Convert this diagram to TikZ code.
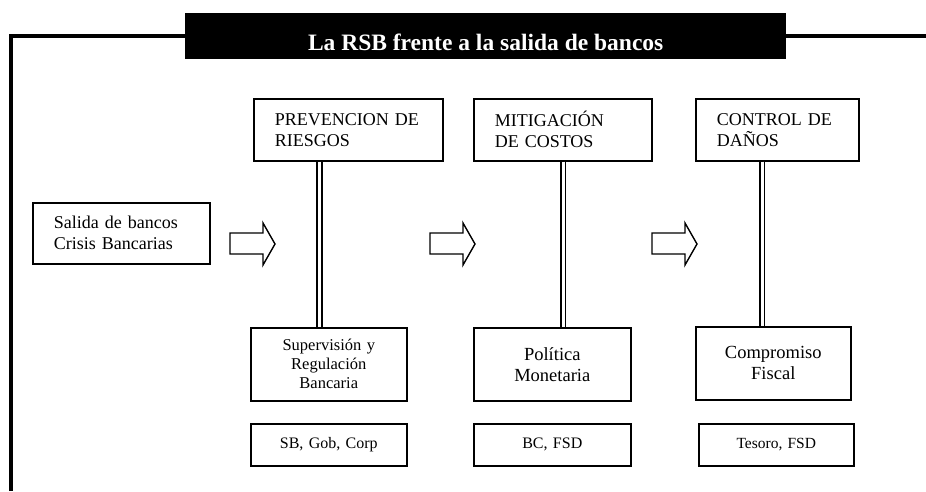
\documentclass[tikz,border=0pt]{standalone}
\usepackage{fontspec}
\setmainfont{Liberation Serif}
\begin{document}
\begin{tikzpicture}[x=1pt,y=-1pt,
    box/.style={draw, line width=1.6pt, inner xsep=21pt, inner ysep=0pt, align=left,
        anchor=north west, font=\fontsize{18}{21}\selectfont},
    cbox/.style={draw, line width=1.6pt, inner xsep=0pt, inner ysep=0pt, align=center,
        anchor=north west},
    dbl/.style={double, double distance=3pt, line width=1.6pt},
    blockarrow/.style={line width=1.4pt, line join=miter}]
        % frame and title
        \useasboundingbox (0,0) rectangle (926,491);
        \draw[line width=4pt, line join=miter] (10.5,491) -- (10.5,36) -- (926,36);
        \node[fill=black, text=white, anchor=north west, inner sep=0pt,
            minimum width=601pt, text height=37pt, text depth=9pt,
            font=\bfseries\fontsize{23.5}{27}\selectfont] (title) at (185,13)
            {La RSB frente a la salida de bancos};

        % left box
        \node[box, text width=135pt, minimum height=61pt] (salida) at (32,202)
            {Salida de bancos\\Crisis Bancarias};

        % top boxes
        \node[box, text width=147pt, minimum height=62pt] (prev) at (253,98)
            {PREVENCION~DE\\RIESGOS};
        \node[box, text width=136pt, minimum height=62pt] (miti) at (473,98)
            {MITIGACIÓN\\DE COSTOS};
        \node[box, text width=121pt, minimum height=62pt] (ctrl) at (695,98)
            {CONTROL~DE\\DAÑOS};

        % bottom boxes
        \node[cbox, text width=156pt, minimum height=73pt, font=\fontsize{16.5}{19}\selectfont]
            (sup) at (250,327) {Supervisión y\\Regulación\\Bancaria};
        \node[cbox, text width=157pt, minimum height=73pt, font=\fontsize{18.5}{21}\selectfont]
            (pol) at (473,327) {Política\\Monetaria};
        \node[cbox, text width=155pt, minimum height=73pt, font=\fontsize{18.5}{21}\selectfont]
            (com) at (695,326) {Compromiso\\Fiscal};

        \node[cbox, text width=156pt, minimum height=42pt, font=\fontsize{16}{19}\selectfont]
            (sb) at (250,423) {SB, Gob, Corp};
        \node[cbox, text width=157pt, minimum height=42pt, font=\fontsize{16}{19}\selectfont]
            (bc) at (473,423) {BC, FSD};
        \node[cbox, text width=155pt, minimum height=42pt, font=\fontsize{15.5}{19}\selectfont]
            (tes) at (698,423) {Tesoro, FSD};

        % double lines
        \coordinate (l1) at (319.5,0);
        \coordinate (l2) at (563,0);
        \coordinate (l3) at (762,0);
        \draw[dbl] (prev.south -| l1) -- (sup.north -| l1);
        \draw[dbl] (miti.south -| l2) -- (pol.north -| l2);
        \draw[dbl] (ctrl.south -| l3) -- (com.north -| l3);

        % block arrows
        \foreach \x in {230,430,652}
            \draw[blockarrow] (\x,233) -- (\x+33,233) -- (\x+33,223) -- (\x+45,244)
                -- (\x+33,265) -- (\x+33,254) -- (\x,254) -- cycle;
\end{tikzpicture}
\end{document}
